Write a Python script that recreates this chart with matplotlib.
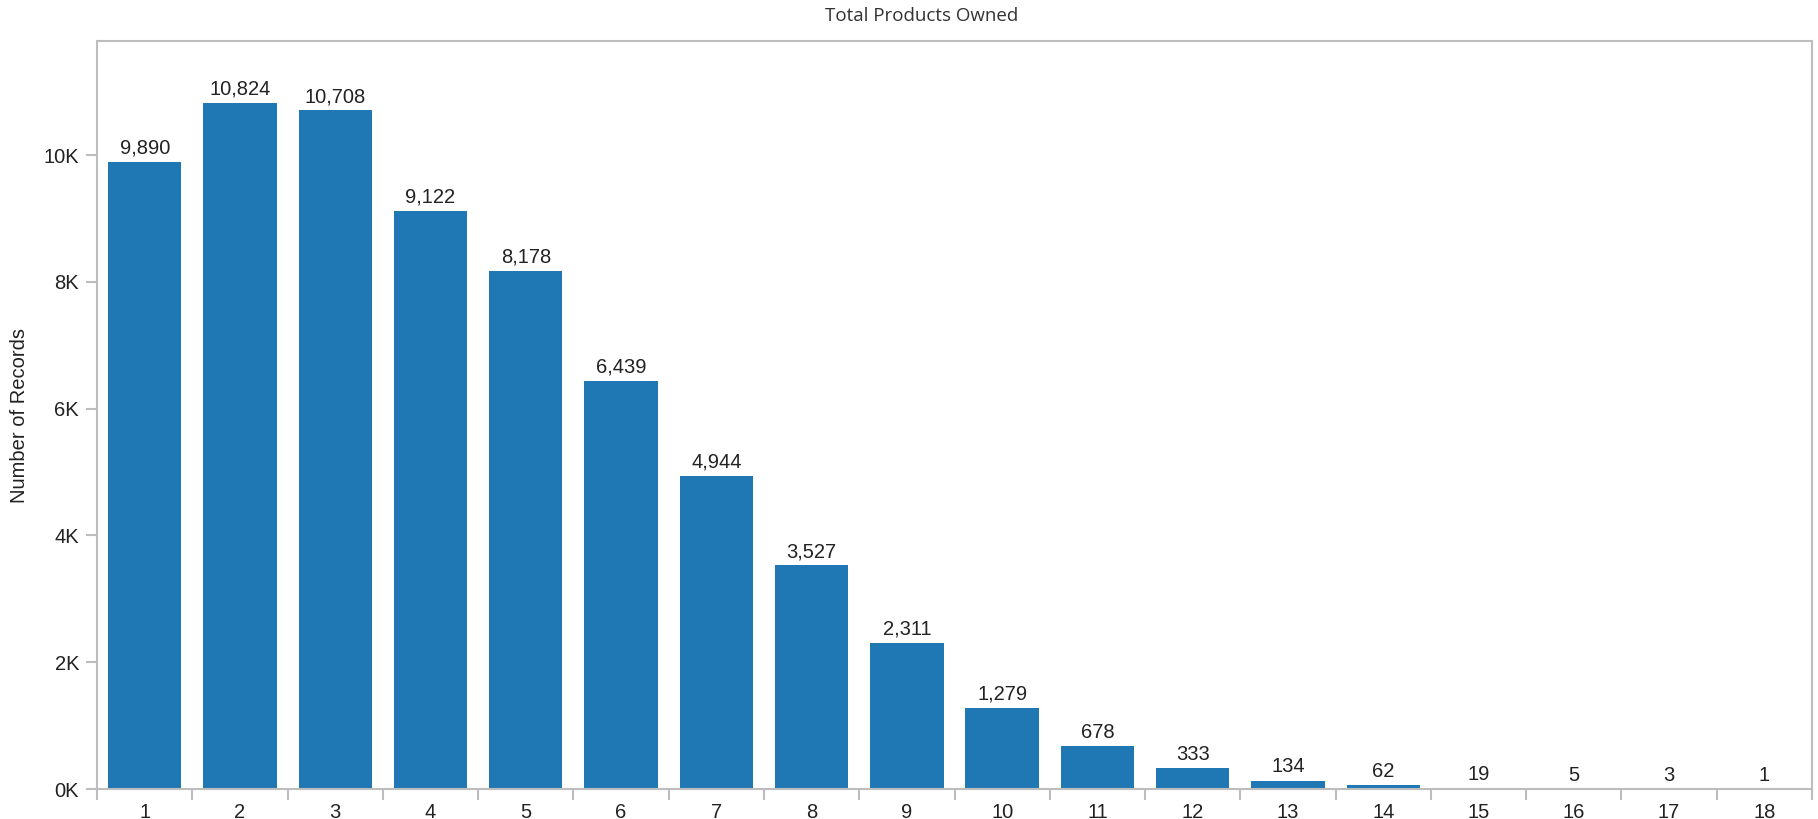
import numpy as np
import matplotlib.pyplot as plt
from matplotlib.ticker import FixedLocator, FuncFormatter

# data
categories = [str(i) for i in range(1, 19)]
counts = [9890, 10824, 10708, 9122, 8178, 6439, 4944, 3527, 2311,
          1279, 678, 333, 134, 62, 19, 5, 3, 1]
y_ticks = [0, 2000, 4000, 6000, 8000, 10000]

BAR_COLOR = "#1f77b4"
AXIS_COLOR = "#bdbdbd"
TEXT_COLOR = "#222222"
FS = 14.5

plt.rcParams['font.family'] = ['Liberation Sans', 'DejaVu Sans']

fig = plt.figure(figsize=(18.18, 8.19), dpi=100)
ax = fig.add_axes([0.0534, 0.0366, 0.9433, 0.9134])

x = np.arange(len(categories))
ax.bar(x, counts, width=0.77, color=BAR_COLOR, edgecolor="none")

# value labels over each bar
for xi, v in zip(x, counts):
  ax.annotate(f"{v:,}", (xi, v), xytext=(0, 3), textcoords="offset points",
              ha="center", va="bottom", fontsize=FS, color=TEXT_COLOR)

ax.set_xlim(-0.5, len(categories) - 0.5)
ax.set_ylim(0, 11800)

# y axis
ax.set_yticks(y_ticks)
ax.yaxis.set_major_formatter(FuncFormatter(lambda v, p: f"{int(v / 1000)}K"))
fig.text(0.0105, 0.493, "Number of Records", rotation=90, ha="center",
         va="center", fontsize=FS, color=TEXT_COLOR)

# x axis: ticks at category boundaries, labels centered
ax.xaxis.set_major_locator(FixedLocator(np.arange(len(categories) + 1) - 0.5))
ax.xaxis.set_major_formatter(FuncFormatter(lambda v, p: ""))
ax.xaxis.set_minor_locator(FixedLocator(x))
ax.set_xticklabels(categories, minor=True)
ax.tick_params(axis="x", which="minor", length=0, pad=10, labelsize=FS,
               labelcolor=TEXT_COLOR)
ax.tick_params(axis="x", which="major", length=8, width=1.5, color=AXIS_COLOR)
ax.tick_params(axis="y", length=8, width=1.5, color=AXIS_COLOR, pad=5,
               labelsize=FS, labelcolor=TEXT_COLOR)

for s in ax.spines.values():
  s.set_color(AXIS_COLOR)
  s.set_linewidth(1.5)

fig.text(0.507, 0.981, "Total Products Owned", ha="center", va="center",
         fontsize=13.5, color="#333333", family=["Open Sans", "DejaVu Sans"])

fig.savefig("out.png", dpi=100, facecolor="white")
